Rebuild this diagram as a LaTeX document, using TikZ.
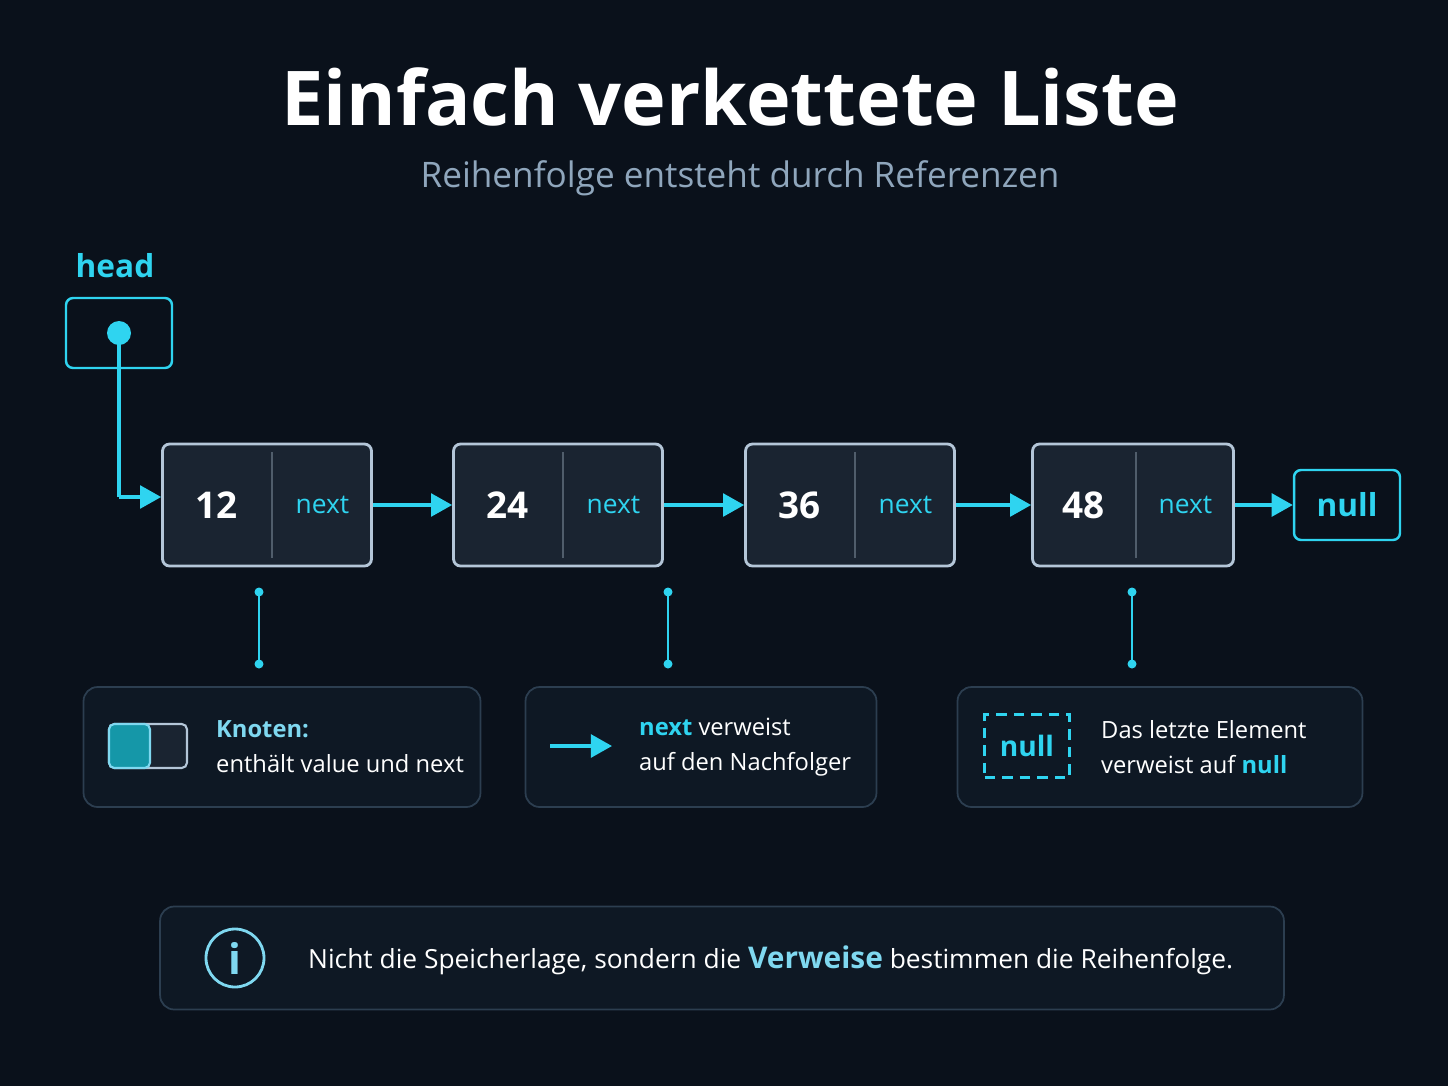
\documentclass[tikz,border=0pt]{standalone}
\usepackage{fontspec}
\setmainfont{Open Sans}
\usetikzlibrary{arrows.meta, calc, positioning}
\definecolor{bgcol}{HTML}{0A111B}
\definecolor{cyanc}{HTML}{2FD4F0}
\definecolor{nodeline}{HTML}{B4C6D8}
\definecolor{nodefill}{HTML}{1A2431}
\definecolor{boxline}{HTML}{2C3E50}
\definecolor{boxfill}{HTML}{0E1824}
\definecolor{subcol}{HTML}{8FA6BC}
\definecolor{keycol}{HTML}{7FD8F0}
\definecolor{tealc}{HTML}{1597A8}
\tikzset{
	px/.style={x=0.02cm,y=-0.02cm},
	listnode/.style={draw=nodeline, line width=1.6pt, fill=nodefill, rounded corners=4pt,
		minimum height=2.44cm},
	cyanbox/.style={draw=cyanc, line width=1.4pt, rounded corners=4pt},
	legendbox/.style={draw=boxline, line width=1pt, fill=boxfill, rounded corners=8pt},
	link/.style={-{Triangle[length=12pt,width=13pt]}, cyanc, line width=1.8pt},
	pin/.style={cyanc, line width=1.1pt},
	valtext/.style={text=white, font=\bfseries\fontsize{21}{26}\selectfont},
	nexttext/.style={text=cyanc, font=\fontsize{15}{20}\selectfont},
	legtext/.style={text=white, font=\fontsize{13.5}{20}\selectfont, align=left, anchor=west}
}
\begin{document}
\begin{tikzpicture}[px]
	\fill[bgcol] (0,0) rectangle (1448,1086);
	\useasboundingbox (0,0) rectangle (1448,1086);

	% title
	\node[text=white, font=\bfseries\fontsize{43}{50}\selectfont] (title) at (730,97) {Einfach verkettete Liste};
	\node[text=subcol, font=\fontsize{20}{24}\selectfont] (subtitle) at (740,178) {Reihenfolge entsteht durch Referenzen};

	% head
	\node[text=cyanc, font=\bfseries\fontsize{18}{22}\selectfont] (headlabel) at (115,266) {head};
	\node[cyanbox, minimum width=2.12cm, minimum height=1.4cm] (head) at (119,333) {};
	\fill[cyanc] (head.center) circle (12);
	\coordinate (hbend) at (119,497);

	% list nodes
	\foreach \name/\cx/\nodewd/\dv/\val in {n1/267/4.18/272/12, n2/558/4.18/563/24, n3/850/4.18/855/36, n4/1133/4.02/1136/48} {
		\node[listnode, minimum width=\nodewd cm] (\name) at (\cx,505) {};
		\draw[nodeline!35!nodefill, line width=1.2pt] (\dv,452) -- (\dv,558);
		\node[valtext] (\name val) at ($(\name.west)!0.5!(\dv,505)$) {\val};
		\node[nexttext] (\name next) at ($(\name.east)!0.5!(\dv,505)$) {next};
	}
	\node[cyanbox, minimum width=2.12cm, minimum height=1.4cm, text=cyanc, font=\bfseries\fontsize{18}{22}\selectfont] (null) at (1347,505) {null};

	\draw[pin, line width=1.8pt] (head.center) -- (hbend);
	\draw[link] (hbend) -- (n1.west |- hbend);
	\draw[link] (n1.east) -- (n2.west);
	\draw[link] (n2.east) -- (n3.west);
	\draw[link] (n3.east) -- (n4.west);
	\draw[link] (n4.east) -- (null.west);

	% legend
	\node[legendbox, minimum width=7.94cm, minimum height=2.4cm] (leg1) at (282,747) {};
	\node[legendbox, minimum width=7.02cm, minimum height=2.4cm] (leg2) at (701,747) {};
	\node[legendbox, minimum width=8.1cm, minimum height=2.4cm] (leg3) at (1160,747) {};
	\foreach \x/\leg in {259/leg1, 668/leg2, 1132/leg3} {
		\coordinate (top\leg) at (\x,592);
		\coordinate (bot\leg) at (\x,664);
		\draw[pin] (top\leg) -- (bot\leg);
		\fill[cyanc] (top\leg) circle (4.5) (bot\leg) circle (4.5);
	}

	\fill[nodefill, draw=nodeline, line width=1.2pt, rounded corners=3pt] (109,724) rectangle (187,768);
	\fill[tealc, draw=keycol, line width=1.2pt, rounded corners=3pt] (109,724) rectangle (150,768);
	\node[legtext] (leg1text) at (210,747) {\textcolor{keycol}{\bfseries Knoten:}\\enthält value und next};

	\coordinate (legarrowa) at (550,746);
	\coordinate (legarrowb) at (612,746);
	\draw[link] (legarrowa) -- (legarrowb);
	\node[legtext] (leg2text) at (633,747) {\textcolor{cyanc}{\bfseries next} verweist\\auf den Nachfolger};

	\node[draw=cyanc, dash pattern=on 6pt off 4pt, line width=1.3pt, minimum width=1.7cm, minimum height=1.26cm,
		text=cyanc, font=\bfseries\fontsize{16}{20}\selectfont] (nulllegend) at (1027,746) {null};
	\node[legtext] (leg3text) at (1095,747) {Das letzte Element\\verweist auf \textcolor{cyanc}{\bfseries null}};

	% info bar
	\node[legendbox, minimum width=22.48cm, minimum height=2.06cm] (info) at (722,958) {};
	\draw[keycol, line width=1.6pt] (235,958) circle (29);
	\node[text=keycol, font=\bfseries\fontsize{24}{28}\selectfont] (infoi) at (235,958) {i};
	\node[legtext, font=\fontsize{15}{21}\selectfont] (infotext) at (302,960)
		{Nicht die Speicherlage, sondern die \textcolor{keycol}{\bfseries\fontsize{17}{21}\selectfont Verweise} bestimmen die Reihenfolge.};
\end{tikzpicture}
\end{document}
